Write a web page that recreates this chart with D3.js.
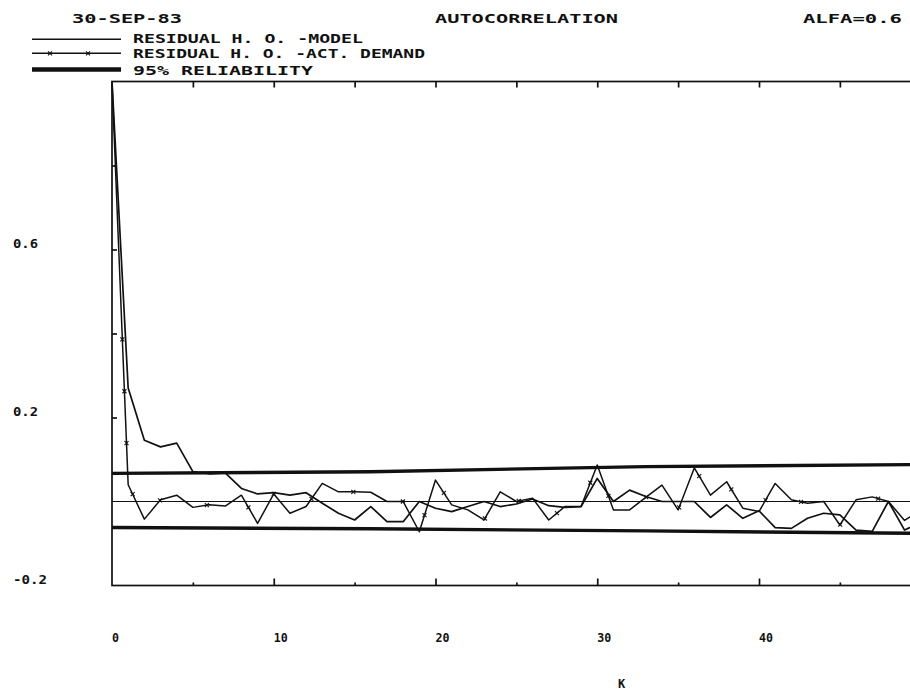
<!DOCTYPE html>
<html>
<head>
<meta charset="utf-8">
<script src="https://cdn.jsdelivr.net/npm/d3@7"></script>
<style>
  body { margin: 0; background: #fff; }
  text { font-family: "DejaVu Sans Mono", monospace; font-weight: bold; fill: #111; }
</style>
</head>
<body>
<div id="chart"></div>
<script>
// lags k and the two residual autocorrelations
var lags = [0,1,2,3,4,5,6,7,8,9,10,11,12,13,14,15,16,17,18,19,20,21,22,23,24,25,
            26,27,28,29,30,31,32,33,34,35,36,37,38,39,40,41,42,43,44,45,46,47,48,49,50];

var modelResid = [1.0, 0.27, 0.146, 0.13, 0.139, 0.071, 0.066, 0.068, 0.031, 0.018,
                  0.021, 0.015, 0.021, -0.004, -0.028, -0.044, -0.012, -0.048, -0.048, 0.0,
                  -0.016, -0.024, -0.012, 0.0, -0.012, -0.006, 0.006, -0.01, -0.014, -0.012,
                  0.055, 0.0, 0.027, 0.012, 0.0, 0.0, 0.0, -0.038, -0.008, -0.04,
                  -0.022, -0.062, -0.064, -0.04, -0.028, -0.032, -0.068, -0.071, 0.0, -0.068, -0.05];

var demandResid = [1.0, 0.04, -0.042, 0.004, 0.015, -0.014, -0.008, -0.011, 0.015, -0.052,
                   0.018, -0.028, -0.012, 0.043, 0.023, 0.023, 0.022, 0.0, 0.0, -0.072,
                   0.051, -0.008, -0.02, -0.044, 0.023, 0.0, 0.008, -0.044, -0.012, -0.012,
                   0.087, -0.02, -0.02, 0.01, 0.039, -0.02, 0.08, 0.015, 0.047, -0.016,
                   -0.024, 0.043, 0.004, -0.004, 0.0, -0.056, 0.004, 0.011, 0.0, -0.045, -0.02];

// 95% reliability band
var bandLags  = [0, 16, 33, 50];
var bandUpper = [0.067, 0.071, 0.083, 0.088];
var bandLower = [-0.062, -0.065, -0.070, -0.076];

var xTicksMajor = [10, 20, 30, 40, 50];
var xTicksMinor = [5, 15, 25, 35, 45];
var xLabels = [0, 10, 20, 30, 40];
var yTicks = [0.2, 0.4, 0.6, 0.8];
var yLabels = [0.6, 0.2, -0.2];

var dateText = "30-SEP-83";
var titleText = "AUTOCORRELATION";
var alfaText = "ALFA=0.6";
var legendNames = ["RESIDUAL H. O. -MODEL", "RESIDUAL H. O. -ACT. DEMAND", "95% RELIABILITY"];

// dimensions
var margin = {top: 81.5, left: 112};
var width = 808.75;
var height = 504;

var x = d3.scaleLinear().domain([0, 50]).range([0, width]);
var y = d3.scaleLinear().domain([-0.2, 1.0]).range([height, 0]);

var svg = d3.select("#chart").append("svg")
    .attr("width", 910)
    .attr("height", 690);

var g = svg.append("g")
    .attr("transform", "translate(" + margin.left + "," + margin.top + ")");

// frame
g.append("rect")
    .attr("width", width)
    .attr("height", height)
    .attr("fill", "none")
    .attr("stroke", "#111")
    .attr("stroke-width", 1.7);

// ticks pointing inside
function tickStyle(sel) {
    sel.select(".domain").remove();
    sel.selectAll("line").attr("stroke", "#111").attr("stroke-width", 1.7);
}
g.append("g")
    .call(d3.axisTop(x).tickValues(xTicksMinor.concat(xTicksMajor)).tickSize(-6).tickFormat(""))
    .call(tickStyle);
g.append("g")
    .attr("transform", "translate(0," + height + ")")
    .call(d3.axisBottom(x).tickValues(xTicksMajor).tickSize(-7).tickFormat(""))
    .call(tickStyle);
g.append("g")
    .attr("transform", "translate(0," + height + ")")
    .call(d3.axisBottom(x).tickValues(xTicksMinor).tickSize(-3).tickFormat(""))
    .call(tickStyle);
g.append("g")
    .call(d3.axisLeft(y).tickValues(yTicks).tickSize(-5).tickFormat(""))
    .call(tickStyle);

// tick labels
g.selectAll(".xlab")
    .data(xLabels)
    .enter().append("text")
    .attr("class", "xlab")
    .attr("x", function(d) { return x(d); })
    .attr("y", height + 56)
    .attr("textLength", function(d) { return d === 0 ? 7 : 14; })
    .attr("lengthAdjust", "spacingAndGlyphs")
    .style("font-size", "12px")
    .text(function(d) { return String(d); });

svg.selectAll(".ylab")
    .data(yLabels)
    .enter().append("text")
    .attr("class", "ylab")
    .attr("x", 13)
    .attr("y", function(d) { return margin.top + y(d) - 1.5; })
    .attr("textLength", function(d) { return d < 0 ? 34 : 25; })
    .attr("lengthAdjust", "spacingAndGlyphs")
    .style("font-size", "13px")
    .text(function(d) { return d.toFixed(1); });

svg.append("text")
    .attr("x", 618)
    .attr("y", 688)
    .style("font-size", "12px")
    .text("K");

// zero line
g.append("line")
    .attr("x1", x(0)).attr("x2", x(50))
    .attr("y1", y(0)).attr("y2", y(0))
    .attr("stroke", "#111")
    .attr("stroke-width", 1.2);

// reliability band
var bandLine = d3.line()
    .x(function(d) { return x(d[0]); })
    .y(function(d) { return y(d[1]); });
[bandUpper, bandLower].forEach(function(b) {
    g.append("path")
        .attr("d", bandLine(bandLags.map(function(k, i) { return [k, b[i]]; })))
        .attr("fill", "none")
        .attr("stroke", "#111")
        .attr("stroke-width", 3.4);
});

// residual lines
var valueline = d3.line()
    .x(function(d) { return x(d[0]); })
    .y(function(d) { return y(d[1]); });

g.append("path")
    .attr("d", valueline(lags.map(function(k, i) { return [k, modelResid[i]]; })))
    .attr("fill", "none")
    .attr("stroke", "#111")
    .attr("stroke-width", 1.7)
    .attr("stroke-linejoin", "round");

var demandPath = g.append("path")
    .attr("d", valueline(lags.map(function(k, i) { return [k, demandResid[i]]; })))
    .attr("fill", "none")
    .attr("stroke", "#111")
    .attr("stroke-width", 1.5)
    .attr("stroke-linejoin", "round");

// small x markers placed along the demand path like the plotter does
function drawMarker(parent, px, py) {
    parent.append("path")
        .attr("d", "M" + (px - 2) + "," + (py - 2) + "L" + (px + 2) + "," + (py + 2) +
                   "M" + (px - 2) + "," + (py + 2) + "L" + (px + 2) + "," + (py - 2))
        .attr("stroke", "#111")
        .attr("stroke-width", 1.1);
}
var node = demandPath.node();
var total = node.getTotalLength();
for (var s = 258; s < total; s += 52) {
    var p = node.getPointAtLength(s);
    drawMarker(g, p.x, p.y);
}

// header
svg.append("text").attr("x", 72).attr("y", 23.3)
    .attr("textLength", 110).attr("lengthAdjust", "spacingAndGlyphs")
    .style("font-size", "13px").text(dateText);
svg.append("text").attr("x", 435).attr("y", 22.7)
    .attr("textLength", 183).attr("lengthAdjust", "spacingAndGlyphs")
    .style("font-size", "13px").text(titleText);
svg.append("text").attr("x", 803).attr("y", 22.7)
    .attr("textLength", 99).attr("lengthAdjust", "spacingAndGlyphs")
    .style("font-size", "13px").text(alfaText);

// legend
var legendY = [39.3, 53.3, 69.5];
var legendBase = [42.7, 58.3, 75];
var legendLen = [230, 292, 180];
var legendWidth = [1.5, 1.4, 4.5];

var legend = svg.append("g").attr("class", "legend");
legendNames.forEach(function(name, i) {
    legend.append("line")
        .attr("x1", 32).attr("x2", 121)
        .attr("y1", legendY[i]).attr("y2", legendY[i])
        .attr("stroke", "#111")
        .attr("stroke-width", legendWidth[i]);
    legend.append("text")
        .attr("x", 133)
        .attr("y", legendBase[i])
        .attr("textLength", legendLen[i])
        .attr("lengthAdjust", "spacingAndGlyphs")
        .style("font-size", "13px")
        .text(name);
});
drawMarker(legend, 50, legendY[1]);
drawMarker(legend, 88, legendY[1]);
</script>
</body>
</html>
